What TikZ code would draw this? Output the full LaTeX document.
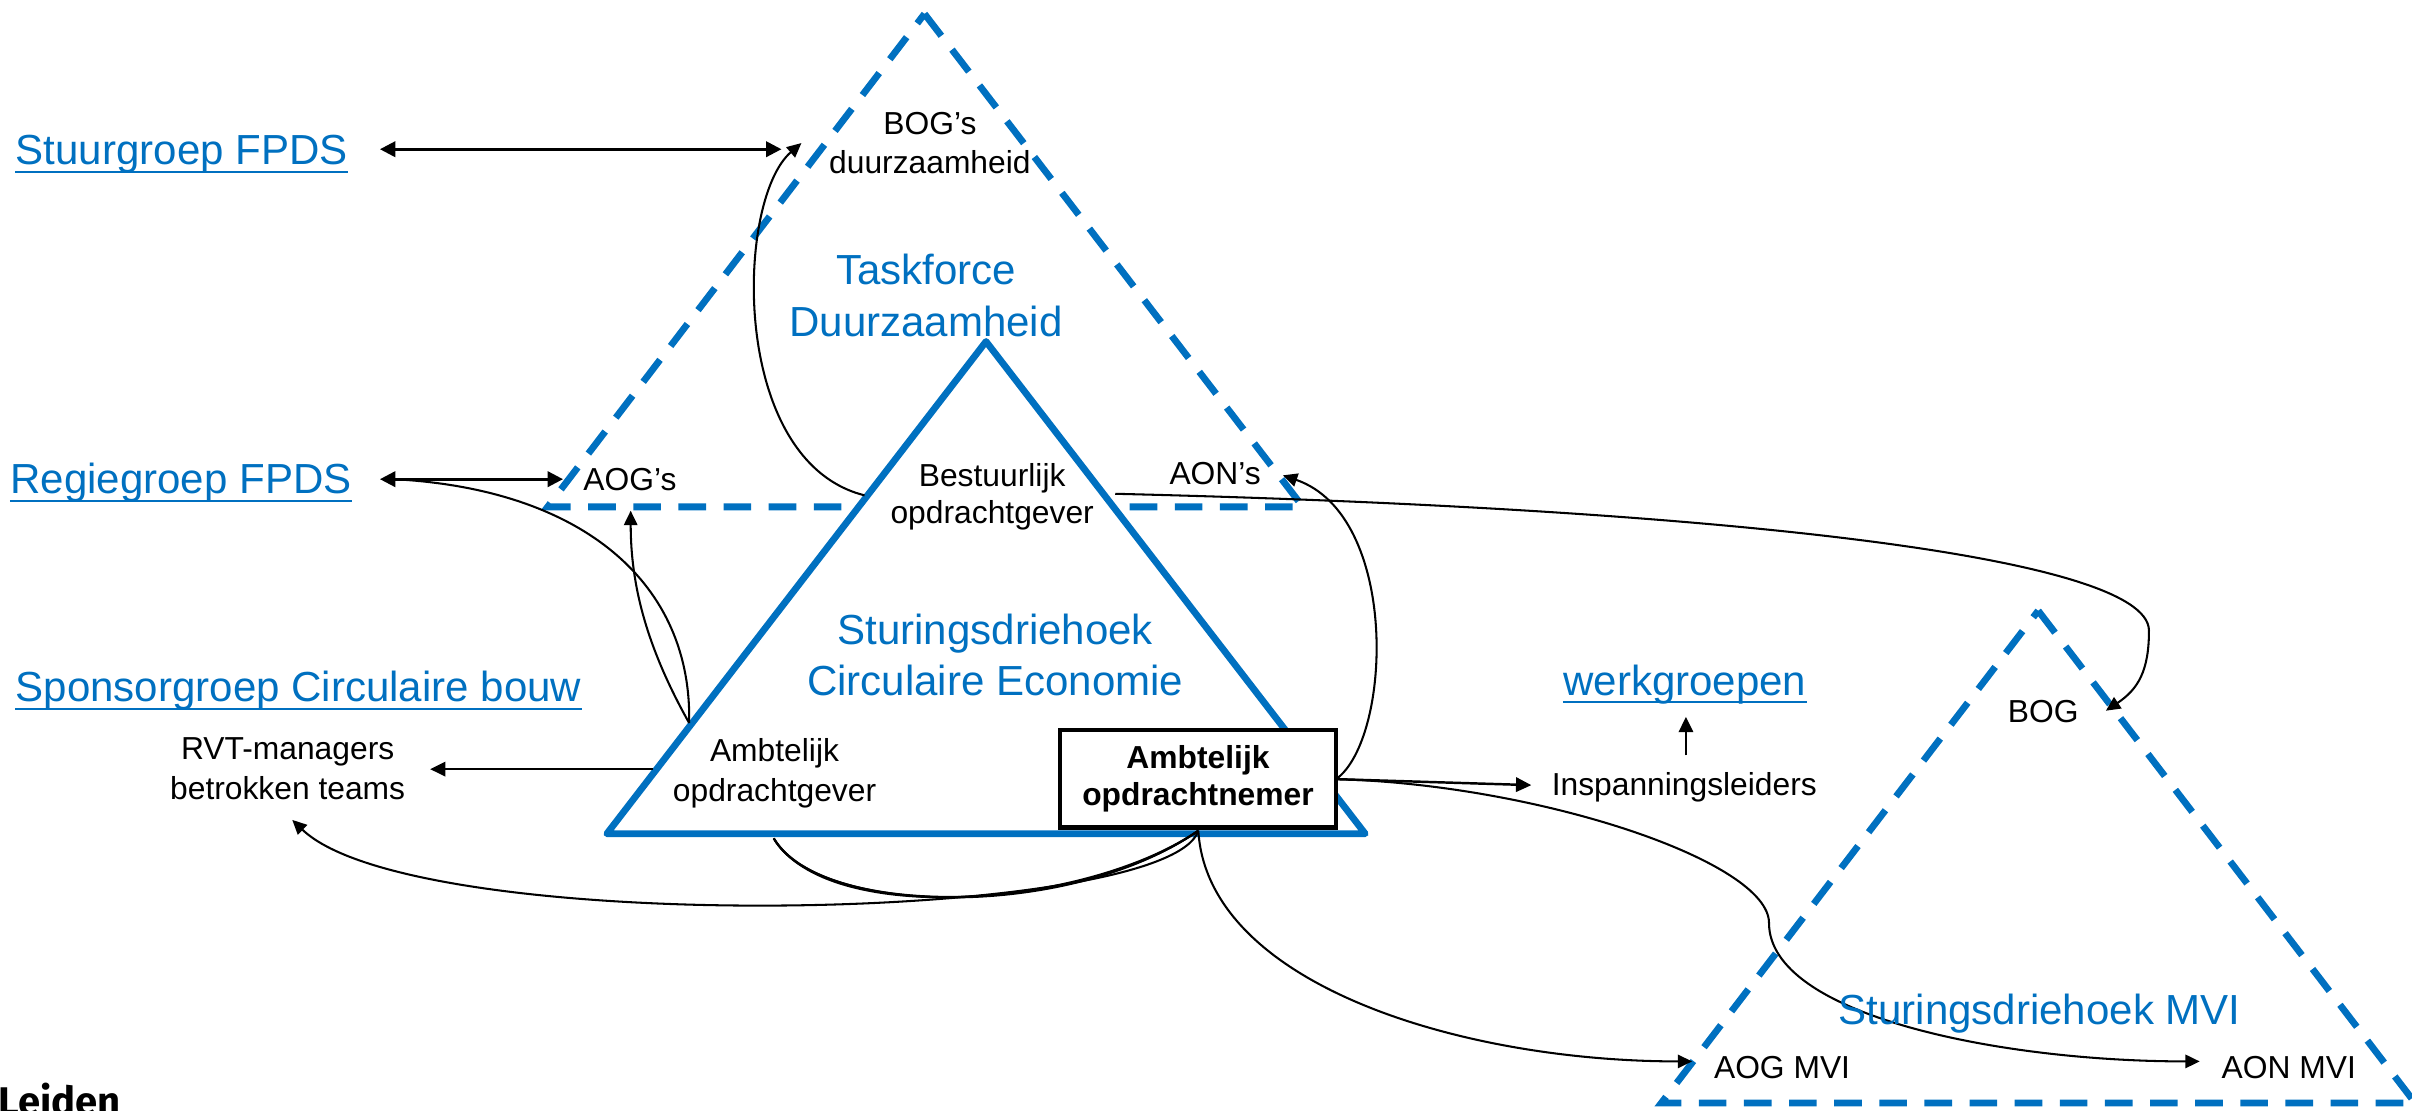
\documentclass[tikz,border=0pt]{standalone}
\usepackage{fontspec}
\setmainfont{Liberation Sans}
\newfontfamily\leidenfont{Fira Sans}
\usetikzlibrary{arrows.meta,calc}
\definecolor{lblue}{HTML}{0070C0}
\begin{document}
\begin{tikzpicture}[x=0.75pt,y=-0.75pt,
  bluebig/.style={text=lblue, font=\fontsize{20.5}{25.5}\selectfont, align=center, inner sep=0pt},
  blacklab/.style={font=\fontsize{15.5}{19.5}\selectfont, align=center, inner sep=0pt},
  single/.style={font=\fontsize{15.5}{18}\selectfont, inner sep=0pt, anchor=base west},
  linklab/.style={text=lblue, font=\fontsize{20.5}{24}\selectfont, inner sep=0pt, anchor=base west},
  uline/.style={draw=lblue, line width=1pt},
  soltri/.style={draw=lblue, fill=white, line width=3.3pt, line join=round},
  dashtri/.style={draw=lblue, line width=3.3pt, dash pattern=on 13.5pt off 8.5pt, line join=miter},
  biarrow/.style={line width=1.3pt, {Triangle[length=7.5pt,width=7.5pt]}-{Triangle[length=7.5pt,width=7.5pt]}},
  sarrow/.style={line width=1.2pt, -{Triangle[length=7.5pt,width=7pt]}},
  carrow/.style={line width=1pt, -{Triangle[length=7pt,width=6.5pt]}},
  cline/.style={line width=1pt}
]
\useasboundingbox (0,0) rectangle (1568,722);

% triangles
\draw[dashtri] (601,9) -- (847,329.5) -- (356,329.5) -- cycle;
\draw[soltri] (641,222) -- (887.5,542) -- (394.5,542) -- cycle;
\draw[dashtri] (1325,397) -- (1570,717) -- (1080,717) -- cycle;

% connector end points
\coordinate (stuurR) at (247,97);
\coordinate (bogsL) at (508,97);
\coordinate (regR) at (247,311.5);
\coordinate (aogsL) at (366,311.5);
\coordinate (regC) at (256,311.5);
\coordinate (boL) at (562,322);
\coordinate (bogsArr) at (521,93);
\coordinate (aoL) at (448,470);
\coordinate (aogsArr) at (410,332);
\coordinate (aoW) at (424.6,500);
\coordinate (rvtE) at (279.6,500);
\coordinate (anB) at (779,540);
\coordinate (rvtS) at (190,533);
\coordinate (aoB) at (503,545);
\coordinate (anR) at (868.6,506.5);
\coordinate (aonsArr) at (834,309);
\coordinate (boR) at (725,321);
\coordinate (bogArr) at (1369,462);
\coordinate (inspW) at (995.5,510.4);
\coordinate (inspN) at (1096,491);
\coordinate (werkS) at (1096,466);
\coordinate (aonmviW) at (1430,690);
\coordinate (aogmviW) at (1100,690);

% connectors
\draw[biarrow] (stuurR) -- (bogsL);
\draw[biarrow] (regR) -- (aogsL);
\draw[carrow] (boL) .. controls (474,300) and (478,130) .. (bogsArr);
\draw[cline] (aoL) .. controls (450,380) and (380,318) .. (regC);
\draw[carrow] (aoL) .. controls (420,420) and (410,380) .. (aogsArr);
\draw[sarrow] (aoW) -- (rvtE);
\draw[carrow] (anB) .. controls (760,600) and (270,610) .. (rvtS);
\draw[cline] (aoB) .. controls (535,598) and (700,595) .. (anB);
\draw[cline] (aoB) .. controls (538,603) and (706,590) .. (anB);
\draw[cline] (aoB) .. controls (531,595) and (694,599) .. (anB);
\draw[carrow] (anR) .. controls (905,480) and (910,335) .. (aonsArr);
\draw[carrow] (boR) .. controls (1100,330) and (1397,360) .. (1397,410) .. controls (1397,436) and (1390,448) .. (bogArr);
\draw[sarrow] (anR) -- (inspW);
\draw[sarrow] (inspN) -- (werkS);
\draw[carrow] (anR) .. controls (1000,510) and (1150,560) .. (1150,600) .. controls (1150,660) and (1300,690) .. (aonmviW);
\draw[carrow] (anB) .. controls (785,640) and (950,690) .. (aogmviW);

% left labels
\node[linklab] (stuur) at (10,107) {Stuurgroep FPDS};
\draw[uline] ($(stuur.base west)+(0,5)$) -- ($(stuur.base east)+(0,5)$);
\node[linklab] (regie) at (6.5,320.7) {Regiegroep FPDS};
\draw[uline] ($(regie.base west)+(0,5)$) -- ($(regie.base east)+(0,5)$);
\node[linklab] (sponsor) at (10,456) {Sponsorgroep Circulaire bouw};
\draw[uline] ($(sponsor.base west)+(0,5)$) -- ($(sponsor.base east)+(0,5)$);
\node[linklab] (werk) at (1016,452) {werkgroepen};
\draw[uline] ($(werk.base west)+(0,4.5)$) -- ($(werk.base east)+(0,4.5)$);

\node[blacklab] (rvt) at (187,499.5) {RVT-managers\\betrokken teams};

% inside taskforce
\node[blacklab, font=\fontsize{15.5}{18.9}\selectfont] (bogs) at (604.5,93) {BOG’s\\duurzaamheid};
\node[bluebig] (tf) at (602,192) {Taskforce\\Duurzaamheid};
\node[single] (aogs) at (379,318.6) {AOG’s};
\node[single] (aons) at (760,315) {AON’s};
\node[blacklab, font=\fontsize{15.5}{18}\selectfont] (bo) at (645,323) {Bestuurlijk\\opdrachtgever};

% inside circular economy triangle
\node[bluebig, font=\fontsize{20.5}{24.5}\selectfont] (sce) at (647,425.7) {Sturingsdriehoek\\Circulaire Economie};
\node[blacklab] (ao) at (503.5,502.6) {Ambtelijk\\opdrachtgever};
\node[draw, line width=2pt, fill=white, minimum width=134.7pt, minimum height=47.5pt, inner sep=0pt, align=center, font=\bfseries\fontsize{15.5}{17.9}\selectfont] (an) at (778.8,506.3) {Ambtelijk\\opdrachtnemer};

% right side
\node[single] (insp) at (1008.5,517) {Inspanningsleiders};
\node[single] (bog) at (1305,470) {BOG};
\node[linklab] (smvi) at (1195,665.8) {Sturingsdriehoek MVI};
\node[single] (aogmvi) at (1114,701.4) {AOG MVI};
\node[single] (aonmvi) at (1444,701.4) {AON MVI};

\node[anchor=base west, inner sep=0pt, font=\leidenfont\bfseries\fontsize{19.5}{21}\selectfont] (leiden) at (-1,725) {Leiden};
\end{tikzpicture}
\end{document}
